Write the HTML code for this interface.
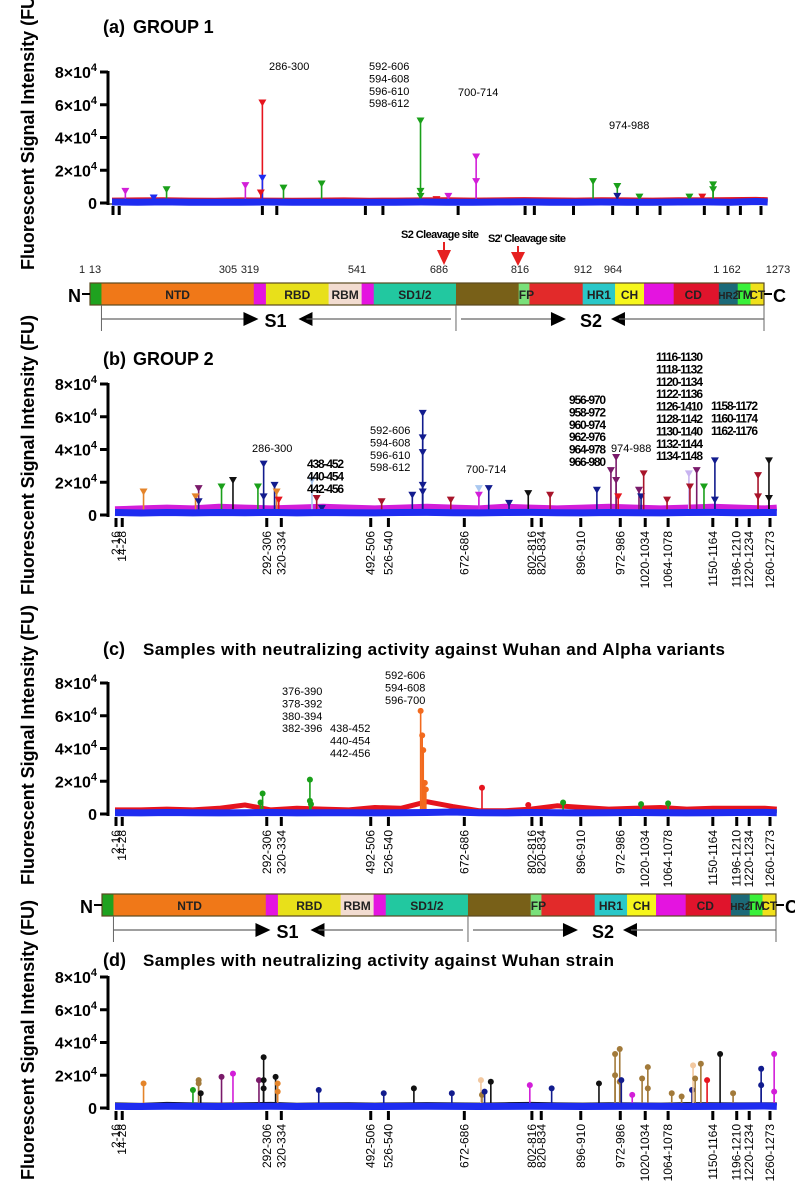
<!DOCTYPE html>
<html><head><meta charset="utf-8"><style>
html,body{margin:0;padding:0;background:#fff}
svg{display:block;font-family:"Liberation Sans",Arial,sans-serif}
</style></head><body>
<svg id="fig" width="795" height="1200" viewBox="0 0 795 1200" xmlns="http://www.w3.org/2000/svg">
</svg>
<script>
// ---------- data ----------
const tickRes = [2,14,292,320,492,526,672,802,820,896,972,1020,1064,1150,1196,1220,1260];
const tickLabels = ["2-16","14-28","292-306","320-334","492-506","526-540","672-686","802-816","820-834","896-910","972-986","1020-1034","1064-1078","1150-1164","1196-1210","1220-1234","1260-1273"];
const yTickVals = [0,20000,40000,60000,80000];
const yTickMant = ["0","2","4","6","8"];
const baseRes = [0,50,100,150,200,250,300,350,400,450,500,550,600,650,700,750,800,850,900,950,1000,1050,1100,1150,1200,1250,1273];

// panel a baselines
const aRedBase  = [1800,1900,2000,1800,1700,1900,1800,1700,1800,1900,1700,1800,1900,2000,1800,1900,2100,1900,1800,2000,1900,1800,2000,1900,2100,2200,2000];
const aBlueBase = [600,500,700,500,400,500,600,400,500,500,400,500,600,500,400,600,700,500,400,600,500,400,600,700,500,900,600];
// panel a peaks
const aPeakRes = [26,81,106,259,292,292,289,333,407,599,599,599,707,707,653,630,934,981,981,1024,1121,1146,1167,1167];
const aPeakVal = [8000,4000,9000,11500,62000,16000,7000,10000,12500,51000,8000,5000,29000,14000,5000,3000,14000,11000,5000,4500,4500,4500,12000,9000];
const aPeakSer = ["magenta","blue","green","magenta","red","blue","red","green","green","green","green","green","magenta","magenta","magenta","red","green","green","navy","green","green","red","green","green"];

// panel b baselines
const bMagBase  = [3500,4000,4500,4000,5000,4500,4000,4500,5000,4500,4000,4500,5000,4500,4000,5000,4500,4000,4500,5000,4500,4000,4500,5000,4500,4000,4500];
const bBlueBase = [1500,1200,1500,1300,1500,1400,1600,1300,1500,1400,1300,1500,1600,1400,1300,1500,1600,1400,1300,1500,1400,1300,1500,1600,1400,1500,1500];
const bPeakRes = [55,161,155,161,205,227,275,286,286,307,311,315,379,388,398,513,572,592,592,592,592,592,646,700,700,719,758,795,837,927,954,964,964,968,1008,1012,1017,1062,1104,1119,1106,1133,1154,1154,1237,1237,1258,1258];
const bPeakVal = [15000,17000,12000,9000,18000,22000,18000,32000,12000,19000,15000,10000,22000,11000,5000,9000,13000,63000,48000,39000,19000,15000,10000,17000,13000,17000,8000,14000,13000,16000,28000,36000,22000,12000,16000,12000,26000,10000,26000,28000,18000,18000,34000,10000,25000,12000,34000,11000];
const bPeakSer = ["orange","purple","orange","navy","green","black","green","navy","navy","navy","orange","red","lightblue","darkred","navy","darkred","navy","navy","navy","navy","navy","navy","darkred","lightblue","magenta","navy","navy","black","darkred","navy","purple","purple","purple","red","purple","navy","darkred","darkred","lightpurple","purple","darkred","green","navy","navy","darkred","darkred","black","black"];

// panel c baselines
const cRedBase  = [2500,2500,3000,2500,3500,5500,2500,3500,3000,2500,4000,3500,7500,4500,2000,2000,3000,5000,4000,3000,3500,4000,3000,3500,3500,3500,3000];
const cGreenBase= [1500,1400,1500,1600,1500,1400,1500,1600,1400,1500,1500,1400,1600,1500,1400,1500,1600,1500,1400,1500,1600,1500,1400,1500,1600,1500,1500];
const cBlueBase = [800,700,900,800,700,800,900,700,800,800,700,800,900,1200,800,700,900,800,700,800,900,800,700,800,900,1000,800];
const cPeakRes = [284,280,375,375,377,588,591,593,596,598,706,862,1012,1064,795];
const cPeakVal = [12500,7000,21000,8000,6000,63000,48000,39000,19000,15000,16000,7000,6000,6500,5500];
const cPeakSer = ["green","green","green","green","green","corange","corange","corange","corange","corange","red","green","green","green","red"];

// panel d baselines
const dBlackBase= [2500,2200,2800,2500,2400,2600,2800,2300,2500,2600,2400,2500,2700,2500,2400,2600,2800,2500,2400,2600,2500,2400,2700,2600,2500,2600,2500];
const dBlueBase = [1000,900,1100,1000,900,1000,1100,900,1000,1000,900,1000,1100,1000,900,1000,1100,1000,900,1000,1100,1000,900,1000,1100,1200,1000];
const dPeakRes = [55,150,161,161,165,205,227,277,286,286,286,309,313,313,392,517,575,648,704,706,711,723,798,840,931,962,962,971,971,974,995,1014,1025,1025,1071,1090,1110,1112,1116,1127,1139,1164,1189,1243,1243,1268,1268];
const dPeakVal = [15000,11000,17000,15000,9000,19000,21000,17000,31000,17000,12000,19000,15000,10000,11000,9000,12000,9000,17000,8000,10000,16000,14000,12000,15000,33000,20000,36000,16000,17000,8000,18000,25000,12000,9000,7000,11000,26000,18000,27000,17000,33000,9000,24000,14000,33000,10000];
const dPeakSer = ["orange","green","brown","brown","black","purple","magenta","purple","black","black","black","black","orange","orange","navy","navy","black","navy","peach","brown","navy","black","magenta","navy","black","brown","brown","brown","brown","navy","magenta","brown","brown","brown","brown","brown","navy","peach","brown","brown","red","black","brown","navy","navy","magenta","magenta"];

// ---------- styles ----------
const COL = {red:"#e6141e",blue:"#1e2cf0",green:"#1aa01a",magenta:"#d21ed8",navy:"#121c8e",purple:"#7a1a6a",darkred:"#a8142a",black:"#111111",orange:"#e4842a",lightblue:"#aac8f0",lightpurple:"#c8b4f0",brown:"#a27a3a",peach:"#f2c8a0",corange:"#f26a1e"};

const NS="http://www.w3.org/2000/svg";
const svg=document.getElementById('fig');
function el(tag,attrs,parent){const e=document.createElementNS(NS,tag);for(const k in attrs)e.setAttribute(k,attrs[k]);(parent||svg).appendChild(e);return e;}
function txt(s,attrs,parent){const e=el('text',attrs,parent);e.textContent=s;return e;}

function makeX(r0,r1,p0,p1){return r=>p0+(r-r0)*(p1-p0)/(r1-r0);}
function makeY(zeroPx,topPx){return v=>zeroPx-(v/80000)*(zeroPx-topPx);}

function yAxis(g,y,axisX,name){
  const ax=el('line',{x1:axisX,x2:axisX,y1:y(80000)-1,y2:y(0)+2,stroke:'#000','stroke-width':3},g);
  
  
  yTickVals.forEach((v,i)=>{
    const t=el('line',{x1:axisX-8,x2:axisX,y1:y(v),y2:y(v),stroke:'#000','stroke-width':3},g);
    
    
    const lab=el('text',{x:axisX-11,y:y(v)+6,'text-anchor':'end','font-size':16,'font-weight':'bold'},g);
    
    
    if(v===0){lab.textContent='0';}
    else{
      const a=document.createElementNS(NS,'tspan');a.textContent=yTickMant[i]+'×10';lab.appendChild(a);
      const b=document.createElementNS(NS,'tspan');b.setAttribute('dy','-7');b.setAttribute('font-size','11');b.textContent='4';lab.appendChild(b);
    }
  });
}
function xTicks(g,x,y0,withLabels){
  tickRes.forEach((r,i)=>{
    const t=el('rect',{x:x(r)-1.5,y:y0+3,width:3,height:9,fill:'#000'},g);
    
    
    if(withLabels){
      const px=x(r);
      const l=txt(tickLabels[i],{x:0,y:0,'font-size':12,'text-anchor':'end',transform:`translate(${px+4},${y0+16}) rotate(-90)`},g);
      
      
    }
  });
}
function baseline(g,x,y,vals,color,w,name){
  const pts=baseRes.map((r,i)=>x(r).toFixed(1)+','+y(vals[i]).toFixed(1)).join(' ');
  const p=el('polyline',{points:pts,fill:'none',stroke:color,'stroke-width':w,'stroke-linejoin':'round'},g);
  
  
}
function peaks(g,x,y,res,vals,ser,marker,baseV){
  res.forEach((r,i)=>{
    const c=COL[ser[i]];const px=x(r),py=y(vals[i]);
    const s=el('line',{x1:px,x2:px,y1:y(baseV),y2:py,stroke:c,'stroke-width':1.6},g);
    
    
    let m;
    if(marker==='tri'){m=el('polygon',{points:`${px-4},${py-2} ${px+4},${py-2} ${px},${py+5}`,fill:c},g);}
    else{m=el('circle',{cx:px,cy:py,r:3,fill:c},g);}
    
    
  });
}
function annot(g,lines,x0,yb,bold){
  lines.forEach((s,i)=>{
    const t=txt(s,{x:x0,y:yb+i*12.4,'font-size':bold?12:11,'font-weight':bold?'bold':'normal'},g);
    if(bold)t.setAttribute('textLength',(s.length>7?47:37));
    
    
  });
}
function yTitle(cy,name){
  const t=txt('Fluorescent Signal Intensity (FU)',{x:0,y:0,'font-size':18,'font-weight':'bold','text-anchor':'middle',textLength:280,transform:`translate(34,${cy}) rotate(-90)`});
  
  
}
function panelTitle(lab,s,yb,w){
  const a=txt(lab,{x:103,y:yb,'font-size':18,'font-weight':'bold'});
  
  
  const b=txt(s,{x:lab==='(a)'||lab==='(b)'?133:143,y:yb,'font-size':lab==='(a)'||lab==='(b)'?18:17,'font-weight':'bold'});
  if(w)b.setAttribute('textLength',w);
  
  
}

// ---------- domain bar ----------
const domStops=[0,0.017,0.243,0.261,0.354,0.403,0.421,0.543,0.636,0.652,0.731,0.779,0.822,0.866,0.933,0.961,0.980,1];
const domCols=["#1fa21f","#f07818","#e414e0","#e8e01a","#f2dcd0","#e414e0","#22c8a0","#786018","#7ae07a","#e22a2a","#2ac8c8","#f6f61c","#e414e0","#e0142c","#1c6a78","#3af03a","#f0e01c"];
const domLabels=[["NTD",2],["RBD",4],["RBM",5],["SD1/2",7],["FP",9],["HR1",11],["CH",12],["CD",14],["HR2",15],["TM",16],["CT",17]];
function domainBar(x0,x1,yt,showNums){
  const g=el('g',{});
  
  
  const W=x1-x0, h=22;
  for(let i=0;i<domCols.length;i++){
    const r=el('rect',{x:x0+domStops[i]*W,y:yt,width:(domStops[i+1]-domStops[i])*W+0.5,height:h,fill:domCols[i]},g);
    
    
  }
  el('rect',{x:x0,y:yt,width:W,height:h,fill:'none',stroke:'#5a4a20','stroke-width':1.2},g);
  domLabels.forEach(([s,i])=>{
    const a=domStops[i-1],b=domStops[i];
    let cx=x0+(a+b)/2*W; if(s==='FP')cx=x0+b*W-3; if(s==='CD')cx=x0+(a+b)/2*W-3;
    const t=txt(s,{x:cx,y:yt+16,'font-size':s.length>2&&W*(b-a)<22?10:12,'font-weight':'bold','text-anchor':'middle',fill:'#222'},g);
    
    
  });
  txt('N',{x:x0-22,y:yt+19,'font-size':18,'font-weight':'bold'},g);
  el('line',{x1:x0-8,x2:x0,y1:yt+11,y2:yt+11,stroke:'#000','stroke-width':2},g);
  el('line',{x1:x1,x2:x1+8,y1:yt+11,y2:yt+11,stroke:'#000','stroke-width':2},g);
  txt('C',{x:x1+9,y:yt+19,'font-size':18,'font-weight':'bold'},g);
  const ay=yt+h+14, s1=x0+domStops[1]*W, mid=x0+domStops[7]*W;
  [[s1,yt+h,s1,yt+h+26],[mid,yt+h,mid,yt+h+26],[x1,yt+h,x1,yt+h+26]].forEach(l=>el('line',{x1:l[0],y1:l[1],x2:l[2],y2:l[3],stroke:'#666','stroke-width':1},g));
  el('line',{x1:s1,x2:s1+148,y1:ay,y2:ay,stroke:'#666','stroke-width':1.2},g);
  el('polygon',{points:`${s1+142},${ay-7} ${s1+157},${ay} ${s1+142},${ay+7}`,fill:'#000'},g);
  txt('S1',{x:s1+163,y:ay+8,'font-size':18,'font-weight':'bold'},g);
  el('polygon',{points:`${s1+197},${ay} ${s1+211},${ay-7} ${s1+211},${ay+7}`,fill:'#000'},g);
  el('line',{x1:s1+205,x2:mid-5,y1:ay,y2:ay,stroke:'#666','stroke-width':1.2},g);
  el('line',{x1:mid+5,x2:mid+98,y1:ay,y2:ay,stroke:'#666','stroke-width':1.2},g);
  el('polygon',{points:`${mid+95},${ay-7} ${mid+110},${ay} ${mid+95},${ay+7}`,fill:'#000'},g);
  txt('S2',{x:mid+124,y:ay+8,'font-size':18,'font-weight':'bold'},g);
  el('polygon',{points:`${mid+155},${ay} ${mid+169},${ay-7} ${mid+169},${ay+7}`,fill:'#000'},g);
  el('line',{x1:mid+163,x2:x1,y1:ay,y2:ay,stroke:'#666','stroke-width':1.2},g);
  if(showNums){
    const nums=[["1",82],["13",95],["305",228],["319",250],["541",357],["686",439],["816",520],["912",583],["964",613],["1 162",727],["1273",778]];
    nums.forEach(([s,px])=>{const t=txt(s,{x:px,y:yt-10,'font-size':11,'text-anchor':'middle',fill:'#222'},g);
      });
  }
}

// ---------- build ----------
yTitle(130,'y-axis-title-a');
yTitle(455,'y-axis-title-b');
yTitle(745,'y-axis-title-c');
yTitle(1040,'y-axis-title-d');

// Panel a
panelTitle('(a)','GROUP 1',33);
(function(){
  const g=el('g',{});
  const x=makeX(2,1260,113,761), y=makeY(203,72);
  el('line',{x1:108,x2:767,y1:204,y2:204,stroke:'#000','stroke-width':1},g);
  baseline(g,x,y,aRedBase,COL.red,5,'series-red-baseline');
  peaks(g,x,y,aPeakRes,aPeakVal,aPeakSer,'tri',1500);
  baseline(g,x,y,aBlueBase,COL.blue,7,'series-blue-baseline');
  yAxis(g,y,108,'panel-a');
  xTicks(g,x,203,false);
  annot(g,["286-300"],269,70,false);
  annot(g,["592-606","594-608","596-610","598-612"],369,70,false);
  annot(g,["700-714"],458,96,false);
  annot(g,["974-988"],609,129,false);
})();

// cleavage markers
(function(){
  const g=el('g',{});
  txt('S2 Cleavage site',{x:440,y:238,'font-size':11,'font-weight':'bold','text-anchor':'middle',textLength:78},g);
  txt("S2' Cleavage site",{x:527,y:242,'font-size':11,'font-weight':'bold','text-anchor':'middle',textLength:78},g);
  el('line',{x1:444,x2:444,y1:242,y2:252,stroke:'#e62020','stroke-width':2},g);
  el('polygon',{points:'437,250 451,250 444,265',fill:'#e62020'},g);
  el('line',{x1:518,x2:518,y1:246,y2:254,stroke:'#e62020','stroke-width':2},g);
  el('polygon',{points:'511,252 525,252 518,266',fill:'#e62020'},g);
})();
domainBar(90,764,283,true);

// Panel b
panelTitle('(b)','GROUP 2',365);
(function(){
  const g=el('g',{});
  const x=makeX(2,1260,116,770), y=makeY(515,384);
  baseline(g,x,y,bMagBase,COL.magenta,6,'series-magenta-baseline');
  peaks(g,x,y,bPeakRes,bPeakVal,bPeakSer,'tri',3000);
  baseline(g,x,y,bBlueBase,COL.blue,7,'series-blue-baseline');
  yAxis(g,y,108,'panel-b');
  xTicks(g,x,515,true);
  annot(g,["286-300"],252,452,false);
  annot(g,["438-452","440-454","442-456"],307,468,true);
  annot(g,["592-606","594-608","596-610","598-612"],370,434,false);
  annot(g,["700-714"],466,473,false);
  annot(g,["956-970","958-972","960-974","962-976","964-978","966-980"],569,404,true);
  annot(g,["974-988"],611,452,false);
  annot(g,["1116-1130","1118-1132","1120-1134","1122-1136","1126-1410","1128-1142","1130-1140","1132-1144","1134-1148"],656,361,true);
  annot(g,["1158-1172","1160-1174","1162-1176"],711,410,true);
})();

// Panel c
panelTitle('(c)','Samples with neutralizing activity against Wuhan and Alpha variants',655,582);
(function(){
  const g=el('g',{});
  const x=makeX(2,1260,116,770), y=makeY(814,683);
  baseline(g,x,y,cRedBase,COL.red,5,'series-red-baseline');
  baseline(g,x,y,cGreenBase,COL.green,3,'series-green-baseline');
  peaks(g,x,y,cPeakRes,cPeakVal,cPeakSer,'dot',1500);
  baseline(g,x,y,cBlueBase,COL.blue,7,'series-blue-baseline');
  yAxis(g,y,108,'panel-c');
  xTicks(g,x,814,true);
  annot(g,["376-390","378-392","380-394","382-396"],282,695,false);
  annot(g,["438-452","440-454","442-456"],330,732,false);
  annot(g,["592-606","594-608","596-700"],385,679,false);
})();
domainBar(102,776,894,false);

// Panel d
panelTitle('(d)','Samples with neutralizing activity against Wuhan strain',966,471);
(function(){
  const g=el('g',{});
  const x=makeX(2,1260,116,770), y=makeY(1108,977);
  baseline(g,x,y,dBlackBase,COL.black,3,'series-black-baseline');
  peaks(g,x,y,dPeakRes,dPeakVal,dPeakSer,'dot',2000);
  baseline(g,x,y,dBlueBase,COL.blue,7,'series-blue-baseline');
  yAxis(g,y,108,'panel-d');
  xTicks(g,x,1108,true);
})();
</script>
</body></html>
